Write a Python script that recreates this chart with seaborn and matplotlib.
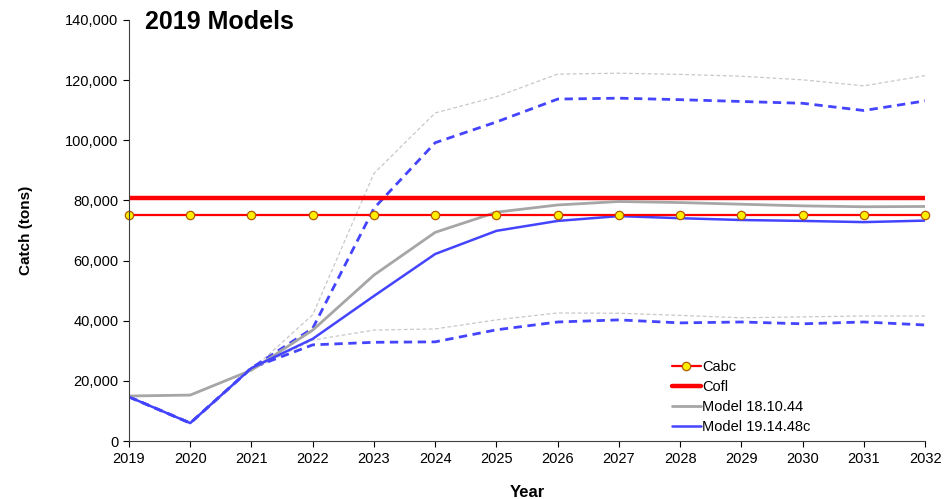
"""
2019 Models - projected catch
"""
import numpy as np
import pandas as pd
import matplotlib
matplotlib.use("Agg")
import matplotlib.pyplot as plt
import seaborn as sns

years = list(range(2019, 2033))

cabc = [75000] * len(years)
cofl = [80700] * len(years)

# Model 18.10.44 (grey)
m18 = [15000, 15300, 23600, 36900, 55200, 69400, 76100, 78500, 79650, 79300, 78750, 78200, 77900, 78000]
m18_hi = [15000, 15300, 23600, 42000, 89000, 109100, 114500, 122000, 122300, 121900, 121300, 120100, 118100, 121500]
m18_lo = [15000, 15300, 23600, 33600, 36900, 37300, 40300, 42600, 42500, 41800, 41000, 41300, 41600, 41600]

# Model 19.14.48c (blue)
m19 = [14700, 6000, 24300, 34000, 48250, 62200, 69900, 73200, 74800, 74100, 73500, 73200, 72800, 73300]
m19_hi = [14700, 6000, 24300, 37500, 77400, 99200, 106100, 113700, 114000, 113500, 112900, 112300, 109900, 113100]
m19_lo = [14700, 6000, 24300, 32000, 32850, 33000, 37000, 39600, 40300, 39300, 39600, 39000, 39600, 38600]

BLUE = "#4444ff"
GREY = "#a6a6a6"
RED = "#ff0000"

df = pd.DataFrame({
    "Year": years, "Cabc": cabc, "Cofl": cofl,
    "m18": m18, "m18_hi": m18_hi, "m18_lo": m18_lo,
    "m19": m19, "m19_hi": m19_hi, "m19_lo": m19_lo,
})

sns.set_style("ticks")
plt.rcParams["font.family"] = ["Liberation Sans", "DejaVu Sans"]
plt.rcParams["text.color"] = "black"
plt.rcParams["axes.labelcolor"] = "black"
plt.rcParams["xtick.color"] = "black"
plt.rcParams["ytick.color"] = "black"

fig = plt.figure(figsize=(9.45, 4.99), dpi=100)
ax = fig.add_axes([0.1365, 0.116, 0.8425, 0.844])

# interval lines first so the solid lines sit on top
sns.lineplot(data=df, x="Year", y="m18_hi", ax=ax, color="#c8c8c8", lw=0.9, linestyle=(0, (3, 2)))
sns.lineplot(data=df, x="Year", y="m18_lo", ax=ax, color="#c8c8c8", lw=0.9, linestyle=(0, (3, 2)))
sns.lineplot(data=df, x="Year", y="m19_hi", ax=ax, color=BLUE, lw=2.0, linestyle=(0, (3, 2)))
sns.lineplot(data=df, x="Year", y="m19_lo", ax=ax, color=BLUE, lw=2.0, linestyle=(0, (3, 2)))

sns.lineplot(data=df, x="Year", y="Cofl", ax=ax, color=RED, lw=3.2, label="Cofl")
sns.lineplot(data=df, x="Year", y="m18", ax=ax, color=GREY, lw=2.0, label="Model 18.10.44")
sns.lineplot(data=df, x="Year", y="m19", ax=ax, color=BLUE, lw=1.8, label="Model 19.14.48c")
sns.lineplot(data=df, x="Year", y="Cabc", ax=ax, color=RED, lw=1.6, marker="o", markersize=6,
             markerfacecolor="#ffee00", markeredgecolor="#b35a00", markeredgewidth=0.9,
             label="Cabc", clip_on=False)

ax.set_xlim(2019, 2032)
ax.set_ylim(0, 140000)
ax.set_xticks(years)
ax.set_yticks(np.arange(0, 140001, 20000))
ax.yaxis.set_major_formatter(matplotlib.ticker.FuncFormatter(lambda v, p: f"{int(v):,}"))
ax.tick_params(labelsize=10.5, length=4, width=0.8)
for s in ("left", "bottom"):
    ax.spines[s].set_color("#404040")
    ax.spines[s].set_linewidth(0.8)
sns.despine(ax=ax)

ax.set_xlabel("Year", fontsize=12, fontweight="bold", labelpad=14)
ax.set_ylabel("Catch (tons)", fontsize=11, fontweight="bold", labelpad=23)
ax.text(0.02, 0.995, "2019 Models", transform=ax.transAxes, fontsize=18,
        fontweight="bold", va="center", ha="left")

handles, labels = ax.get_legend_handles_labels()
order = [labels.index(n) for n in ["Cabc", "Cofl", "Model 18.10.44", "Model 19.14.48c"]]
ax.legend([handles[i] for i in order], [labels[i] for i in order],
          loc="lower left", bbox_to_anchor=(0.665, -0.015), frameon=False,
          fontsize=10.5, handlelength=2.0, handletextpad=0.1, labelspacing=0.42)

fig.savefig("out.png", dpi=100)
